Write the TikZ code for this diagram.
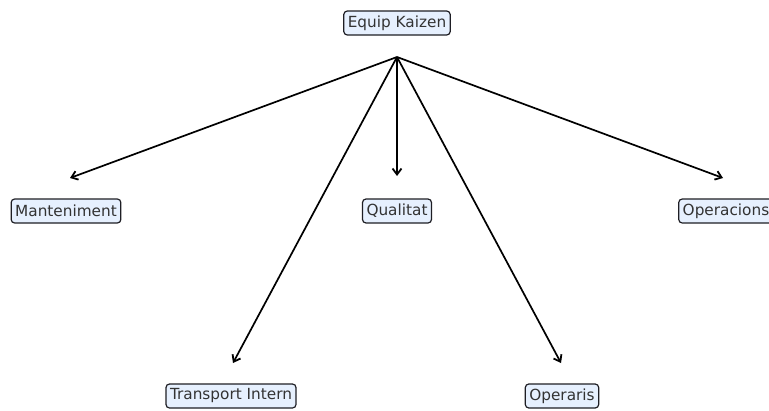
\documentclass[tikz,border=0pt]{standalone}
\usepackage{fontspec}
\setmainfont{DejaVu Sans}
\usetikzlibrary{arrows.meta,positioning}
\definecolor{boxfill}{HTML}{E6F0FE}
\definecolor{boxline}{HTML}{1E1E24}
\definecolor{labeltext}{HTML}{333333}

\begin{document}
\begin{tikzpicture}[
  x=1pt,y=-1pt,
  team/.style={draw=boxline,fill=boxfill,rounded corners=3.5pt,line width=1.2pt,
    text=labeltext,inner xsep=4pt,inner ysep=3pt,minimum height=24pt,
    font=\fontsize{15.3}{18}\selectfont},
  arr/.style={-{Straight Barb[length=6pt,width=9pt,line width=1.8pt]},line width=1.7pt}
]
  \useasboundingbox (0,0) rectangle (769,410);
  \clip (0,0) rectangle (769,410);

  % Team nodes
  \node[team] (kaizen) at (397,23) {Equip Kaizen};
  \node[team] (mant) at (66,211) {Manteniment};
  \node[team] (qual) at (397,211) {Qualitat};
  \node[team] (oper) at (726,211) {Operacions};
  \node[team] (trans) at (231,396) {Transport Intern};
  \node[team] (opis) at (562,396) {Operaris};

  % Arrow ends
  \coordinate[below=34pt of kaizen.center] (hub);
  \coordinate (mantin) at (70,178);
  \coordinate[above=35pt of qual.center] (qualin);
  \coordinate (operin) at (723,178);
  \coordinate (transin) at (233,363);
  \coordinate (opisin) at (561,363);

  % Links from the team
  \draw[arr] (hub) -- (mantin);
  \draw[arr] (hub) -- (qualin);
  \draw[arr] (hub) -- (operin);
  \draw[arr] (hub) -- (transin);
  \draw[arr] (hub) -- (opisin);
\end{tikzpicture}
\end{document}
